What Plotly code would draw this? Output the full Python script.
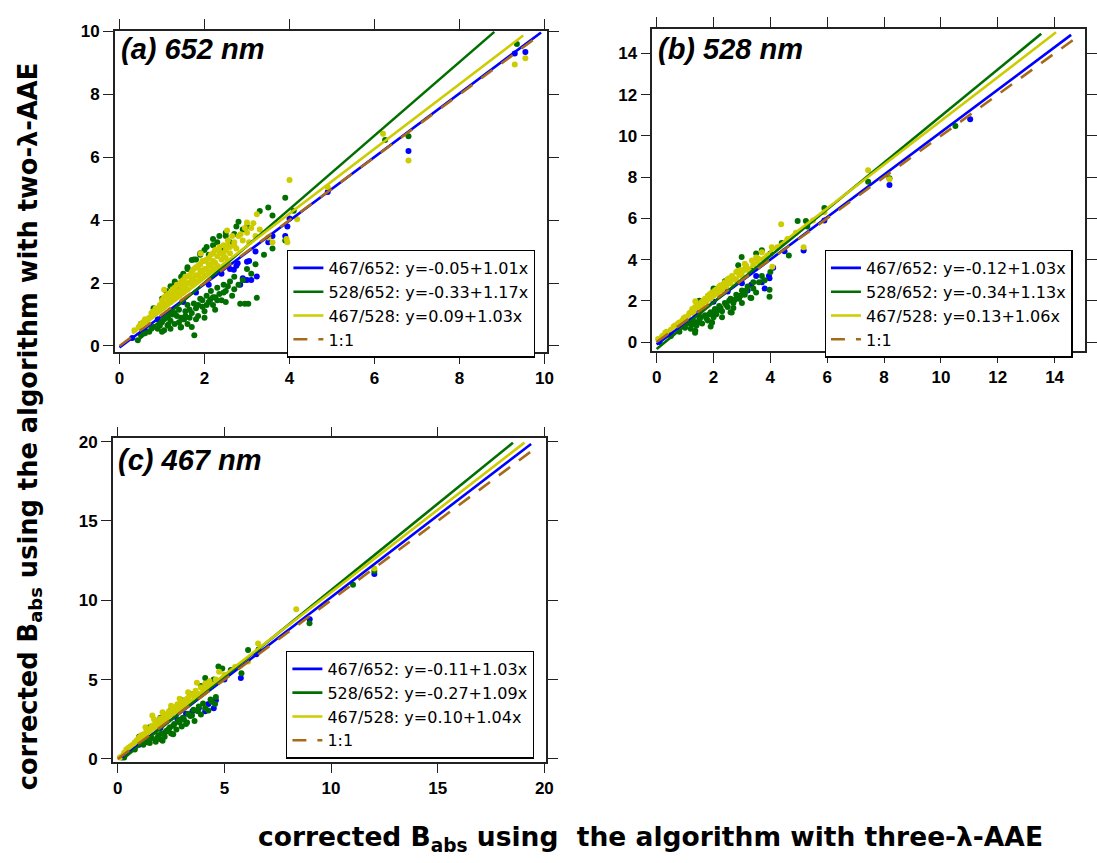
import plotly.graph_objects as go

# ---------------- data ----------------
# panel (a) 652 nm
a_blue_x = [0.3, 0.6, 0.9, 1.2, 1.5, 1.8, 2.1, 2.4, 2.6, 2.69, 2.75, 2.78, 2.84, 2.9, 2.93, 3.0, 3.0, 3.05, 3.1, 3.23, 3.2, 3.5, 3.6, 3.9, 3.95, 4.0, 4.9, 6.8, 9.3, 9.55]
a_blue_y = [0.25, 0.5, 0.85, 1.1, 1.4, 1.7, 1.95, 2.3, 2.45, 2.42, 2.55, 2.63, 1.95, 2.15, 2.1, 2.68, 2.1, 2.7, 2.1, 2.21, 3.0, 3.3, 3.5, 3.5, 3.8, 4.05, 4.9, 6.2, 9.3, 9.35]

a_green_x = [0.5, 0.8, 1.0, 1.2, 1.3, 1.4, 1.5, 1.6, 1.7, 1.8, 1.9, 2.0, 2.1, 2.2, 2.3, 2.4, 2.5, 2.6, 2.7, 2.9, 3.0, 3.3, 3.5, 3.6, 3.9, 4.1, 6.25, 6.8, 9.35,
             1.1, 1.3, 1.45, 1.6, 1.75, 1.9, 2.05, 2.2, 2.35, 2.5, 2.75, 2.8,
             0.43, 0.5, 0.7, 0.8, 0.9, 1.0, 1.05, 1.1, 1.13, 1.15, 1.2, 1.25, 1.3, 1.35, 1.4, 1.44, 1.45, 1.5, 1.52, 1.55, 1.6, 1.65, 1.7, 1.75, 1.76, 1.8, 1.85, 1.9,
             1.95, 2.0, 2.05, 2.1, 2.14, 2.15, 2.2, 2.25, 2.3, 2.35, 2.4, 2.45, 2.5, 2.6, 2.65, 2.7, 2.8, 2.84, 2.95, 3.03, 3.0, 3.2, 3.23, 3.4, 3.6, 3.9,
             0.6, 0.75, 0.95, 1.05, 1.15, 1.3, 1.4, 1.55, 1.65, 1.7, 1.85, 1.95, 2.05, 2.2, 2.3, 2.45, 2.55, 2.7, 2.9, 3.1, 1.0, 1.2, 1.45, 1.6, 1.8, 2.0, 2.25, 2.5]
a_green_y = [0.7, 1.2, 1.5, 1.9, 2.05, 1.8, 2.3, 2.45, 2.73, 2.75, 2.9, 3.05, 2.9, 3.2, 3.3, 3.1, 3.5, 3.3, 3.56, 3.7, 3.8, 4.29, 4.4, 4.15, 4.71, 4.3, 6.55, 6.67, 9.6,
             1.75, 2.0, 2.2, 2.5, 2.75, 2.95, 3.15, 3.4, 3.5, 3.6, 3.8, 3.95,
             0.18, 0.35, 0.45, 0.6, 0.55, 0.75, 0.5, 0.9, 0.65, 0.68, 0.8, 1.0, 0.7, 0.95, 1.15, 0.59, 0.6, 0.85, 0.85, 1.1, 1.3, 0.9, 1.05, 1.35, 0.34, 1.2, 0.95, 1.5,
             1.25, 1.1, 1.6, 1.4, 1.48, 1.75, 1.3, 1.55, 1.85, 1.65, 1.45, 1.95, 1.75, 2.05, 1.6, 2.2, 1.95, 1.34, 1.34, 1.34, 2.45, 2.6, 1.53, 2.9, 3.1, 3.35,
             0.4, 0.55, 0.65, 0.85, 0.95, 1.05, 0.75, 0.95, 1.15, 0.6, 1.3, 1.45, 1.3, 1.55, 1.45, 1.7, 1.9, 1.8, 2.1, 2.3, 0.45, 0.55, 0.9, 0.7, 0.85, 0.9, 1.15, 1.4]

a_yellow_x = [0.35, 0.45, 0.55, 0.6, 0.7, 0.75, 0.8, 0.85, 0.9, 0.95, 1.0, 1.0, 1.05, 1.05, 1.1, 1.1, 1.15, 1.2, 1.2, 1.25, 1.3, 1.3, 1.35, 1.4, 1.4, 1.45, 1.5,
              1.5, 1.55, 1.6, 1.6, 1.65, 1.7, 1.7, 1.75, 1.8, 1.8, 1.85, 1.9, 1.9, 1.91, 1.95, 2.0, 2.0, 2.05, 2.1, 2.1, 2.15, 2.2, 2.2, 2.25, 2.3, 2.35, 2.4,
              2.45, 2.5, 2.53, 2.55, 2.6, 2.7, 2.75, 2.8, 2.9, 3.0, 3.0, 3.05, 3.1, 3.2, 3.23, 3.3, 3.5, 3.6, 3.93, 3.95, 4.0, 4.18, 4.9, 6.2, 6.8, 9.3, 9.55,
              0.5, 0.65, 0.8, 0.95, 1.05, 1.15, 1.25, 1.35, 1.45, 1.55, 1.65, 1.75, 1.85, 1.95, 2.05, 2.15, 2.25, 2.35, 2.45, 2.55, 2.65, 2.85, 2.95, 3.15,
              1.3, 1.5, 1.7, 1.9, 2.1, 2.3, 2.5, 2.7, 1.2, 1.4, 1.6, 1.8, 2.0, 2.2, 2.4, 2.6]
a_yellow_y = [0.5, 0.6, 0.75, 0.85, 0.9, 1.05, 1.0, 1.2, 1.1, 1.3, 1.2, 1.45, 1.35, 1.79, 1.3, 1.6, 1.45, 1.4, 1.7, 1.55, 1.5, 1.85, 1.65, 1.6, 1.95, 1.8, 1.7,
              2.1, 1.85, 1.8, 2.2, 2.0, 1.95, 2.35, 2.1, 2.05, 2.5, 2.25, 2.15, 2.6, 2.94, 2.35, 2.25, 2.7, 2.45, 2.35, 2.8, 2.55, 2.45, 2.95, 2.65, 2.55, 3.0, 2.75,
              2.9, 2.8, 3.67, 3.2, 2.95, 3.3, 3.1, 3.5, 3.35, 3.6, 3.93, 3.3, 3.75, 3.5, 4.19, 3.7, 3.45, 3.3, 3.4, 3.3, 5.28, 4.03, 5.05, 6.75, 5.9, 8.95, 9.15,
              0.7, 0.8, 1.1, 1.15, 1.55, 1.65, 1.8, 1.95, 2.05, 2.2, 2.25, 2.45, 2.55, 2.7, 2.75, 2.9, 3.05, 3.15, 3.2, 3.35, 3.5, 3.55, 3.75, 3.9,
              1.7, 1.95, 2.15, 2.4, 2.6, 2.85, 3.05, 3.2, 1.55, 1.75, 2.0, 2.25, 2.45, 2.7, 2.95, 3.15]

# panel (b) 528 nm
b_blue_x = [0.1, 0.5, 1.0, 1.5, 2.0, 2.5, 3.0, 3.2, 3.33, 3.5, 3.7, 3.8, 3.97, 3.95, 4.1, 4.5, 5.17, 5.9, 8.19, 11.03]
b_blue_y = [0.0, 0.45, 0.95, 1.45, 1.95, 2.45, 2.85, 2.5, 2.78, 3.2, 2.9, 2.6, 3.1, 3.2, 3.6, 4.4, 4.44, 5.9, 7.62, 10.8]

b_green_x = [0.5, 0.8, 1.0, 1.1, 1.2, 1.3, 1.35, 1.36, 1.4, 1.5, 1.6, 1.7, 1.8, 1.9, 1.94, 1.95, 2.0, 2.05, 2.1, 2.2, 2.3, 2.4, 2.5, 2.6, 2.6, 2.64, 2.7, 2.8,
             2.9, 3.0, 3.1, 3.2, 3.3, 3.33, 3.4, 3.5, 3.7, 3.97, 3.97, 4.0,
             1.25, 1.45, 1.55, 1.75, 1.85, 2.0, 2.15, 2.25, 2.45, 2.55, 2.75, 2.95, 3.15, 3.4, 3.6, 3.8, 1.9, 2.3, 2.7, 3.0,
             1.5, 2.0, 2.4, 2.6, 2.87, 2.99, 3.3, 3.5, 3.7, 4.0, 4.4, 4.65, 4.96, 5.25, 5.3, 5.9, 7.44, 8.19, 10.51]
b_green_y = [0.3, 0.5, 0.7, 0.9, 0.65, 1.0, 0.45, 0.55, 0.8, 1.1, 0.9, 1.3, 1.05, 1.45, 0.95, 0.95, 1.2, 1.6, 1.35, 1.75, 1.5, 1.9, 1.7, 1.45, 2.1, 1.43, 1.9, 2.3,
             2.1, 2.5, 2.3, 2.7, 2.15, 2.14, 2.9, 2.4, 3.2, 2.54, 2.2, 3.4,
             0.85, 0.95, 1.2, 1.15, 1.35, 1.45, 1.55, 1.65, 1.8, 2.0, 2.05, 2.25, 2.5, 2.6, 2.9, 3.0, 0.75, 1.2, 1.65, 1.9,
             2.0, 2.6, 2.95, 3.0, 3.73, 4.13, 3.5, 4.3, 4.45, 4.3, 4.8, 4.2, 5.87, 5.87, 5.6, 6.5, 7.78, 7.94, 10.48]

b_yellow_x = [0.05, 0.2, 0.35, 0.5, 0.65, 0.8, 0.9, 1.0, 1.1, 1.2, 1.3, 1.35, 1.36, 1.5, 1.55, 1.6, 1.7, 1.75, 1.8, 1.9, 1.95, 2.0, 2.1, 2.15, 2.2, 2.3,
              2.35, 2.45, 2.52, 2.6, 2.7, 2.8, 2.9, 3.0, 3.1, 3.25, 3.4, 3.55, 3.57, 3.75, 3.9, 4.05, 4.07, 4.25, 4.38, 4.6, 4.9, 5.17, 5.5, 5.9, 7.44, 8.19,
              0.3, 0.6, 0.75, 0.95, 1.15, 1.25, 1.45, 1.65, 1.85, 2.05, 2.25, 2.4, 2.55, 2.65, 2.85, 2.95, 3.15, 3.35, 3.5, 3.7,
              1.3, 1.6, 1.9, 2.2, 2.5, 2.8, 3.1]
b_yellow_y = [0.15, 0.3, 0.5, 0.6, 0.8, 0.95, 1.05, 1.2, 1.25, 1.45, 1.4, 1.7, 1.98, 1.65, 1.9, 1.8, 2.1, 1.95, 2.25, 2.1, 2.4, 2.25, 2.55, 2.35, 2.65, 2.5,
              2.8, 2.7, 3.0, 2.85, 3.1, 3.0, 3.3, 3.2, 3.55, 3.45, 3.75, 3.9, 4.05, 4.0, 4.2, 4.6, 3.65, 4.6, 5.71, 5.0, 5.3, 4.6, 5.9, 6.3, 8.33, 7.9,
              0.45, 0.75, 0.9, 1.15, 1.4, 1.6, 1.8, 2.0, 2.3, 2.5, 2.75, 2.9, 3.1, 3.2, 3.45, 3.5, 3.7, 3.95, 4.1, 4.35,
              1.55, 1.95, 2.35, 2.7, 3.05, 3.4, 3.8]

# panel (c) 467 nm
c_blue_x = [0.2, 1.0, 2.0, 2.8, 3.2, 3.5, 3.8, 4.1, 4.25, 4.5, 4.6, 5.0, 5.77, 6.5, 9.0, 12.03]
c_blue_y = [0.1, 0.9, 1.95, 2.5, 2.85, 3.0, 3.2, 3.0, 3.46, 3.2, 3.7, 5.0, 5.11, 6.6, 8.8, 11.66]

c_green_x = [0.3, 0.8, 1.2, 1.5, 1.78, 1.9, 2.0, 2.2, 2.24, 2.4, 2.5, 2.6, 2.75, 2.9, 3.0, 3.1, 3.25, 3.4, 3.48, 3.6, 3.75, 3.9, 4.1, 4.25, 4.4, 4.56, 4.6,
             1.4, 1.6, 1.85, 2.05, 2.3, 2.45, 2.65, 2.85, 3.05, 3.3, 3.55, 3.8, 4.0, 4.35, 2.1, 2.6, 3.2,
             1.0, 1.5, 2.0, 2.5, 3.0, 3.5, 3.9, 4.1, 4.5, 4.72, 4.9, 5.3, 5.8, 6.11, 6.6, 8.99, 11.03, 12.03]
c_green_y = [0.1, 0.6, 0.9, 1.0, 1.09, 1.5, 1.25, 1.4, 1.7, 1.9, 1.6, 2.1, 1.85, 2.3, 2.05, 2.5, 2.3, 2.7, 2.74, 2.4, 3.0, 2.8, 3.2, 3.05, 3.6, 3.46, 3.9,
             1.05, 1.3, 1.3, 1.6, 1.8, 2.0, 2.2, 2.45, 2.6, 2.85, 3.1, 3.3, 3.5, 3.75, 1.15, 1.55, 2.2,
             1.4, 2.0, 2.6, 3.1, 3.7, 4.1, 4.6, 5.1, 5.0, 5.83, 5.7, 5.6, 5.4, 6.86, 6.9, 8.55, 10.98, 11.85]

c_yellow_x = [0.1, 0.3, 0.5, 0.7, 0.9, 1.0, 1.1, 1.25, 1.35, 1.5, 1.6, 1.62, 1.7, 1.8, 1.9, 2.0, 2.1, 2.2, 2.3, 2.4, 2.5, 2.6, 2.7, 2.8, 2.9, 3.0, 3.1,
              3.25, 3.4, 3.55, 3.71, 3.8, 4.0, 4.2, 4.41, 4.6, 4.75, 5.0, 5.5, 6.11, 6.58, 8.37, 12.03,
              0.4, 0.6, 0.8, 1.0, 1.2, 1.4, 1.55, 1.75, 1.95, 2.15, 2.35, 2.55, 2.75, 2.95, 3.15, 3.35, 3.5, 3.65, 3.9, 4.1, 4.3,
              1.3, 1.7, 2.1, 2.5, 2.9, 3.3]
c_yellow_y = [0.1, 0.4, 0.7, 0.9, 1.2, 1.1, 1.5, 1.45, 1.8, 1.7, 2.1, 2.74, 1.95, 2.3, 2.15, 2.55, 2.35, 2.8, 2.6, 3.0, 2.8, 3.25, 3.0, 3.45, 3.2, 3.6, 3.4,
              3.8, 3.6, 4.0, 4.8, 4.1, 4.4, 4.6, 4.6, 5.0, 5.5, 5.3, 5.8, 6.14, 7.27, 9.44, 12.0,
              0.6, 0.8, 1.05, 1.35, 1.55, 1.75, 1.95, 2.2, 2.4, 2.65, 2.85, 3.1, 3.3, 3.5, 3.7, 3.95, 4.1, 4.3, 4.5, 4.75, 4.9,
              2.0, 2.5, 2.95, 3.35, 3.8, 4.2]

# fit lines: intercept, slope, x-extent
fit_labels = ["467/652", "528/652", "467/528"]
a_intercepts = [-0.05, -0.33, 0.09]
a_slopes = [1.01, 1.17, 1.03]
a_xstart = [0.0, 0.4, 0.3]
a_xend = [9.92, 8.82, 9.5]
a_one_end = 9.78

b_intercepts = [-0.12, -0.34, 0.13]
b_slopes = [1.03, 1.13, 1.06]
b_xstart = [0.0, 0.0, 0.0]
b_xend = [14.58, 13.53, 14.05]
b_one_end = 14.69

c_intercepts = [-0.11, -0.27, 0.10]
c_slopes = [1.03, 1.09, 1.04]
c_xstart = [0.2, 0.3, 0.0]
c_xend = [19.38, 18.53, 19.07]
c_one_end = 19.4

panel_titles = ["(a) 652 nm", "(b) 528 nm", "(c) 467 nm"]

# ---------------- style ----------------
W, H = 1097, 863
COLORS = ["#0000FF", "#006F00", "#CCCC00"]
BROWN = "#A86A1A"
FONT = "Liberation Sans, Arial, sans-serif"
WIDE = "DejaVu Sans, Verdana, sans-serif"

fig = go.Figure()

panels = [
    dict(ax="x", ay="y", legend="legend",
         pts=[(a_blue_x, a_blue_y), (a_green_x, a_green_y), (a_yellow_x, a_yellow_y)],
         ic=a_intercepts, sl=a_slopes, xs=a_xstart, xe=a_xend, one=a_one_end),
    dict(ax="x2", ay="y2", legend="legend2",
         pts=[(b_blue_x, b_blue_y), (b_green_x, b_green_y), (b_yellow_x, b_yellow_y)],
         ic=b_intercepts, sl=b_slopes, xs=b_xstart, xe=b_xend, one=b_one_end),
    dict(ax="x3", ay="y3", legend="legend3",
         pts=[(c_blue_x, c_blue_y), (c_green_x, c_green_y), (c_yellow_x, c_yellow_y)],
         ic=c_intercepts, sl=c_slopes, xs=c_xstart, xe=c_xend, one=c_one_end),
]

for p in panels:
    for (px, py), col in zip(p["pts"], COLORS):
        fig.add_trace(go.Scatter(x=px, y=py, mode="markers", xaxis=p["ax"], yaxis=p["ay"],
                                 marker=dict(color=col, size=6), showlegend=False,
                                 hoverinfo="skip"))
    for i, col in enumerate(COLORS):
        x0, x1 = p["xs"][i], p["xe"][i]
        a, b = p["ic"][i], p["sl"][i]
        sign = "-" if a < 0 else ""
        name = f"{fit_labels[i]}: y={sign}{abs(a):.2f}+{b:.2f}x"
        fig.add_trace(go.Scatter(x=[x0, x1], y=[a + b * x0, a + b * x1], mode="lines",
                                 xaxis=p["ax"], yaxis=p["ay"], name=name,
                                 line=dict(color=col, width=2.6), legend=p["legend"]))
    fig.add_trace(go.Scatter(x=[0, p["one"]], y=[0, p["one"]], mode="lines",
                             xaxis=p["ax"], yaxis=p["ay"], name="1:1",
                             line=dict(color=BROWN, width=2.6, dash="14px,11px"),
                             legend=p["legend"]))

axis_common = dict(showgrid=False, zeroline=False, showline=True, linecolor="#222222",
                   linewidth=1.5, mirror="ticks", ticks="outside", ticklen=10, tickwidth=1.3,
                   tickcolor="#222222", tickfont=dict(family=FONT, size=17, color="black", weight="bold"))

def px_x(p):
    return p / W

def px_y(p):
    return 1 - p / H

fig.update_layout(
    width=W, height=H, margin=dict(l=0, r=0, t=0, b=0),
    paper_bgcolor="white", plot_bgcolor="white",
    xaxis=dict(domain=[px_x(116), px_x(553)], range=[-0.11, 10.07], dtick=2, anchor="y", **axis_common),
    yaxis=dict(domain=[px_y(350), px_y(23)], range=[-0.19, 10.03], dtick=2, anchor="x", **axis_common),
    xaxis2=dict(domain=[px_x(659), px_x(1096)], range=[-0.15, 15.07], dtick=2, anchor="y2", **axis_common),
    yaxis2=dict(domain=[px_y(349), px_y(21)], range=[-0.43, 15.2], dtick=2, anchor="x2", **axis_common),
    xaxis3=dict(domain=[px_x(114), px_x(552)], range=[-0.23, 20.1], dtick=5, anchor="y3", **axis_common),
    yaxis3=dict(domain=[px_y(767), px_y(438)], range=[-0.17, 20.2], dtick=5, anchor="x3", **axis_common),
    showlegend=True,
)

legend_common = dict(bgcolor="white", bordercolor="black", borderwidth=1.3,
                     font=dict(family=WIDE, size=16, color="black"),
                     xanchor="left", yanchor="top", tracegroupgap=0, itemwidth=30)
fig.update_layout(
    legend=dict(x=px_x(290), y=px_y(246), **legend_common),
    legend2=dict(x=px_x(833), y=px_y(246), **legend_common),
    legend3=dict(x=px_x(289), y=px_y(654), **legend_common),
)

ann = []
for t, (xp, yp) in zip(panel_titles, [(120, 42), (663, 42), (117, 460)]):
    ann.append(dict(text=f"<b><i>{t}</i></b>", x=px_x(xp), y=px_y(yp), xref="paper", yref="paper",
                    xanchor="left", yanchor="middle", showarrow=False,
                    font=dict(family=FONT, size=29, color="black")))
ann.append(dict(text="<b>corrected B<sub>abs</sub> using the algorithm with two-\u03bb-AAE</b>",
                x=px_x(30), y=px_y(426), xref="paper", yref="paper", textangle=-90,
                xanchor="center", yanchor="middle", showarrow=False,
                font=dict(family=WIDE, size=25.7, color="black")))
ann.append(dict(text="<b>corrected B<sub>abs</sub> using\u00a0 the algorithm with three-\u03bb-AAE</b>",
                x=px_x(657), y=px_y(845), xref="paper", yref="paper",
                xanchor="center", yanchor="middle", showarrow=False,
                font=dict(family=WIDE, size=26.5, color="black")))
fig.update_layout(annotations=ann)

fig.write_html("out.html")
